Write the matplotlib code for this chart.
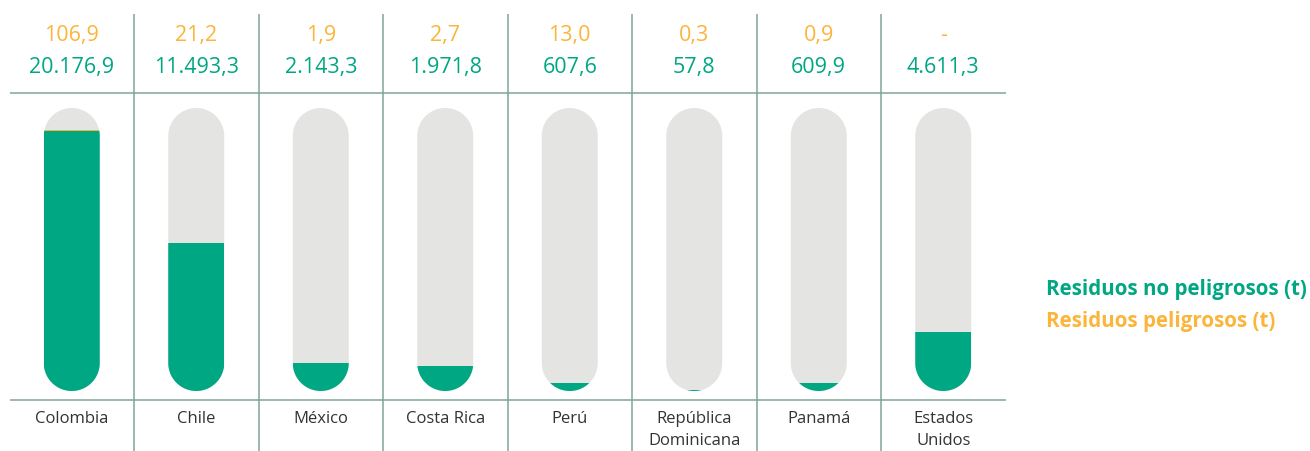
import matplotlib
matplotlib.use("Agg")
import numpy as np
import matplotlib.pyplot as plt
import matplotlib.transforms as mtransforms
from matplotlib.patches import Polygon

# ---- data ----
categories = ["Colombia", "Chile", "México", "Costa Rica", "Perú",
              "República\nDominicana", "Panamá", "Estados\nUnidos"]
no_peligrosos = [20176.9, 11493.3, 2143.3, 1971.8, 607.6, 57.8, 609.9, 4611.3]
peligrosos = [106.9, 21.2, 1.9, 2.7, 13.0, 0.3, 0.9, 0.0]
no_pel_labels = ["20.176,9", "11.493,3", "2.143,3", "1.971,8", "607,6", "57,8", "609,9", "4.611,3"]
pel_labels = ["106,9", "21,2", "1,9", "2,7", "13,0", "0,3", "0,9", "-"]
scale_max = 22000
legend_labels = ["Residuos no peligrosos (t)", "Residuos peligrosos (t)"]

GREEN = "#00A783"
ORANGE = "#FBB53A"
GRAY = "#E4E4E2"
LINE = "#7FA594"
TEXT = "#333333"
FONT = "Open Sans"

W, H = 1310, 451
fig = plt.figure(figsize=(W / 100, H / 100), dpi=100)
ax0 = fig.add_axes([0, 0, 1, 1])
ax0.set_xlim(0, W)
ax0.set_ylim(H, 0)
ax0.axis("off")

# bar axes: x in category units, y in tonnes
x_left, x_right = 9.5, 1005.5
y_top, y_bot = 108, 391
ax = fig.add_axes([x_left / W, 1 - y_bot / H, (x_right - x_left) / W, (y_bot - y_top) / H])
n = len(categories)
ax.set_xlim(-0.5, n - 0.5)
ax.set_ylim(0, scale_max)
ax.axis("off")

fig.canvas.draw()
p0 = ax.transData.transform((0, 0))
p1 = ax.transData.transform((1, 1))
px_per_x = p1[0] - p0[0]
px_per_y = p1[1] - p0[1]

bar_w = 56 / px_per_x
rx = bar_w / 2
ry = 28 / px_per_y
xs = list(range(n))


def capsule(cx):
    t_top = np.linspace(0, np.pi, 60)
    t_bot = np.linspace(np.pi, 2 * np.pi, 60)
    top = np.column_stack([cx + rx * np.cos(t_top), scale_max - ry + ry * np.sin(t_top)])
    bot = np.column_stack([cx + rx * np.cos(t_bot), ry + ry * np.sin(t_bot)])
    return np.vstack([top, bot])


for i in xs:
    cap = Polygon(capsule(i), closed=True, facecolor=GRAY, edgecolor="none", zorder=1)
    ax.add_patch(cap)
    g = ax.bar(i, no_peligrosos[i], width=bar_w, color=GREEN, zorder=2, linewidth=0)
    o = ax.bar(i, peligrosos[i], bottom=no_peligrosos[i], width=bar_w, color=ORANGE,
               zorder=3, linewidth=0)
    for b in list(g) + list(o):
        b.set_clip_path(cap)

# grid lines (layout)
blend = mtransforms.blended_transform_factory(ax.transData, ax0.transData)
for k in range(n - 1):
    ax0.plot([k + 0.5, k + 0.5], [14, H], color=LINE, lw=1.1, transform=blend,
             clip_on=False, solid_capstyle="butt")
for yy in (93, 400):
    ax0.plot([-0.5, n - 0.5], [yy, yy], color=LINE, lw=1.1, transform=blend,
             clip_on=False, solid_capstyle="butt")

# texts
for i in xs:
    ax0.text(i, 36, pel_labels[i], color=ORANGE, fontsize=15.5, family=FONT,
             ha="center", va="center", transform=blend)
    ax0.text(i, 67, no_pel_labels[i], color=GREEN, fontsize=15.5, family=FONT,
             ha="center", va="center", transform=blend)
    ax0.text(i, 411, categories[i], color=TEXT, fontsize=12, family=FONT,
             ha="center", va="top", transform=blend, linespacing=1.5)

ax0.text(1046, 289, legend_labels[0], color=GREEN, fontsize=14.8, family=FONT,
         fontweight="bold", ha="left", va="center")
ax0.text(1046, 322, legend_labels[1], color=ORANGE, fontsize=14.8, family=FONT,
         fontweight="bold", ha="left", va="center")

fig.savefig("out.png", dpi=100)
